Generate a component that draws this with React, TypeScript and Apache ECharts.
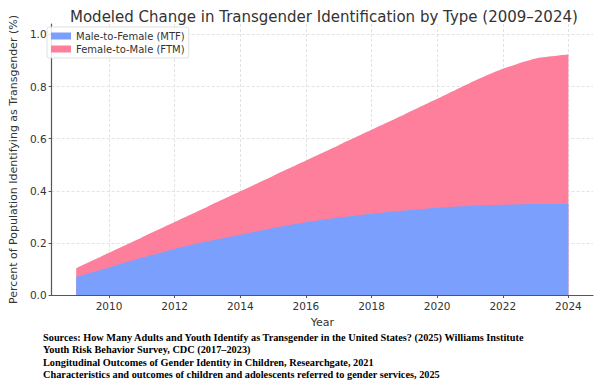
import React, { useEffect, useRef } from "react";
import * as echarts from "echarts";

const years = [2009, 2010, 2011, 2012, 2013, 2014, 2015, 2016, 2017, 2018, 2019, 2020, 2021, 2022, 2023, 2024];
const mtf = [0.07, 0.106, 0.143, 0.177, 0.206, 0.231, 0.257, 0.279, 0.297, 0.312, 0.324, 0.335, 0.342, 0.346, 0.349, 0.349];
const ftm = [0.033, 0.056, 0.078, 0.103, 0.133, 0.167, 0.2, 0.237, 0.278, 0.322, 0.369, 0.418, 0.472, 0.522, 0.559, 0.574];
const xTicks = [2010, 2012, 2014, 2016, 2018, 2020, 2022, 2024];
const yTicks = [0, 0.2, 0.4, 0.6, 0.8, 1.0];
const seriesNames = ["Male-to-Female (MTF)", "Female-to-Male (FTM)"];
const title = "Modeled Change in Transgender Identification by Type (2009–2024)";
const sources = [
  "Sources: How Many Adults and Youth Identify as Transgender in the United States? (2025) Williams Institute",
  "Youth Risk Behavior Survey, CDC (2017–2023)",
  "Longitudinal Outcomes of Gender Identity in Children, Researchgate, 2021",
  "Characteristics and outcomes of children and adolescents referred to gender services, 2025",
];

const BLUE = "#7b9ffc";
const PINK = "#fe7f9c";
const FONT = "DejaVu Sans";
const TXT = "#333333";

export default function App() {
  const ref = useRef<HTMLDivElement>(null);
  useEffect(() => {
    if (!ref.current) return;
    const chart = echarts.init(ref.current, undefined, { renderer: "svg" });
    const gridLine = { show: true, lineStyle: { color: "#dcdcdc", type: [3, 2], width: 0.8 } };
    // stacked top of FTM = MTF + FTM (stack drawn via cumulative values)
    const stackedTop = years.map((y, i) => [y, +(mtf[i] + ftm[i]).toFixed(4)]);
    chart.setOption({
      animation: false,
      backgroundColor: "#ffffff",
      title: {
        text: title,
        left: 65,
        top: 4,
        textStyle: { fontFamily: FONT, fontSize: 15, fontWeight: "normal", color: TXT },
      },
      legend: {
        left: 47,
        top: 27,
        orient: "vertical",
        itemWidth: 20,
        itemHeight: 7,
        itemGap: 3,
        padding: [4, 4, 4, 4],
        backgroundColor: "rgba(255,255,255,0.85)",
        borderColor: "#d8d8d8",
        borderWidth: 0.8,
        borderRadius: 2,
        icon: "rect",
        textStyle: { fontFamily: FONT, fontSize: 10, color: TXT },
        data: seriesNames,
      },
      grid: { left: 43, right: 7, top: 24, bottom: 94, containLabel: false },
      xAxis: {
        type: "value",
        min: 2008.25,
        max: 2024.75,
        name: "Year",
        nameLocation: "middle",
        nameGap: 22,
        nameTextStyle: { fontFamily: FONT, fontSize: 11, color: TXT },
        axisLine: { show: true, lineStyle: { color: "#555", width: 1.2 } },
        axisTick: { show: true, customValues: xTicks, length: 3, lineStyle: { color: "#555" } },
        axisLabel: {
          customValues: xTicks,
          fontFamily: FONT,
          fontSize: 10.5,
          color: TXT,
          margin: 5,
          formatter: (v: number) => String(v),
        },
        splitLine: gridLine,
      },
      yAxis: {
        type: "value",
        min: 0,
        max: 1.04,
        name: "Percent of Population Identifying as Transgender (%)",
        nameLocation: "middle",
        nameGap: 31,
        nameTextStyle: { fontFamily: FONT, fontSize: 11, color: TXT },
        axisLine: { show: true, lineStyle: { color: "#555", width: 1.2 } },
        axisTick: { show: true, customValues: yTicks, length: 3, lineStyle: { color: "#555" } },
        axisLabel: {
          customValues: yTicks,
          fontFamily: FONT,
          fontSize: 10.5,
          color: TXT,
          margin: 5,
          formatter: (v: number) => v.toFixed(1),
        },
        splitLine: gridLine,
      },
      series: [
        {
          name: seriesNames[1],
          type: "line",
          data: stackedTop,
          showSymbol: false,
          smooth: 0.2,
          z: 2,
          lineStyle: { width: 0 },
          itemStyle: { color: PINK },
          areaStyle: { color: PINK, opacity: 1 },
        },
        {
          name: seriesNames[0],
          type: "line",
          data: years.map((y, i) => [y, mtf[i]]),
          showSymbol: false,
          smooth: 0.2,
          z: 3,
          lineStyle: { width: 0 },
          itemStyle: { color: BLUE },
          areaStyle: { color: BLUE, opacity: 1 },
        },
      ],
      graphic: sources.map((s, i) => ({
        type: "text",
        left: 43,
        top: 332 + i * 12.5,
        style: {
          text: s,
          fontFamily: "Liberation Serif",
          fontWeight: "bold",
          fontSize: 10.3,
          fill: "#000",
        },
      })),
    });
    return () => chart.dispose();
  }, []);
  return <div ref={ref} style={{ width: 600, height: 389, position: "absolute", left: 0, top: 0 }} />;
}
